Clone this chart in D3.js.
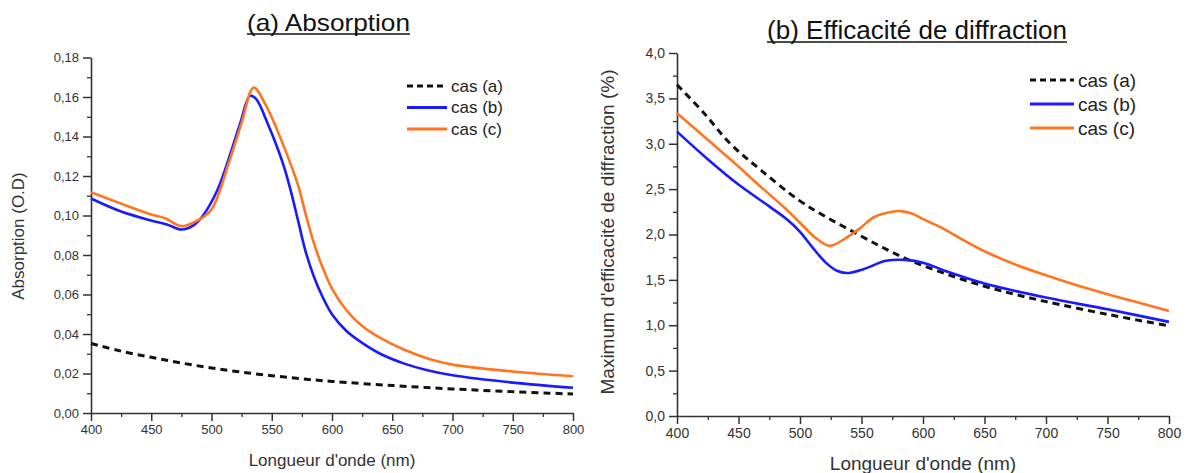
<!DOCTYPE html>
<html><head><meta charset="utf-8">
<script src="https://cdn.jsdelivr.net/npm/d3@7"></script>
<style>body{margin:0;background:#fff}svg{display:block;font-family:"Liberation Sans",Arial,sans-serif}</style>
</head><body><svg id="c" width="1187" height="473"></svg>
<script>
// ---- Data: panel (a) Absorption ----
const absA_nm = [400,425,450,475,500,525,550,575,600,650,700,750,800];
const absA_val = [0.0352,0.0313,0.0282,0.0253,0.0228,0.0207,0.0189,0.0173,0.016,0.0139,0.0122,0.0108,0.0096];
const absB_nm = [400,425,449,463,475,485,493,505,515,524,532,537,547,553,560,566,572,578,585,592,600,612,625,640,660,680,700,750,800];
const absB_val = [0.1086,0.102,0.0976,0.0955,0.0929,0.095,0.100,0.113,0.130,0.147,0.1606,0.159,0.146,0.137,0.125,0.112,0.097,0.082,0.069,0.059,0.050,0.0415,0.0355,0.030,0.025,0.0215,0.0191,0.0154,0.0128];
const absC_nm = [400,425,450,462,475,490,500,515,525,535,545,560,572,578,585,592,600,612,625,640,660,680,700,750,800];
const absC_val = [0.1118,0.106,0.1005,0.0985,0.0946,0.098,0.103,0.128,0.147,0.1648,0.156,0.135,0.115,0.101,0.086,0.074,0.063,0.052,0.044,0.038,0.032,0.0275,0.0245,0.021,0.0186];
// ---- Data: panel (b) Efficacité de diffraction ----
const effA_nm = [400,422,443,468,499,521,546,570,592,620,650,675,700,750,800];
const effA_val = [3.65,3.337,3.006,2.711,2.379,2.195,2.01,1.838,1.70,1.56,1.43,1.34,1.26,1.12,0.993];
const effB_nm = [400,425,450,475,490,500,510,521,530,538,552,570,586,600,620,650,700,750,800];
const effB_val = [3.134,2.83,2.55,2.31,2.16,2.03,1.86,1.69,1.60,1.575,1.62,1.71,1.72,1.69,1.59,1.46,1.305,1.176,1.037];
const effC_nm = [400,422,447,468,487,500,512,524,536,549,560,575,582,592,600,615,630,650,675,700,725,750,775,800];
const effC_val = [3.337,3.079,2.785,2.527,2.30,2.13,1.97,1.875,1.95,2.07,2.19,2.25,2.258,2.225,2.17,2.075,1.96,1.815,1.67,1.55,1.44,1.342,1.25,1.158];
// ---- Labels ----
const seriesNames = ["cas (a)","cas (b)","cas (c)"];
const xTicks = [400,450,500,550,600,650,700,750,800];
const absTicks = [0,0.02,0.04,0.06,0.08,0.10,0.12,0.14,0.16,0.18];
const effTicks = [0,0.5,1.0,1.5,2.0,2.5,3.0,3.5,4.0];

const colors = ["#111","#1a1aff","#ff7520"];
const svg = d3.select("#c");
const zip = (a,b)=>a.map((x,i)=>[x,b[i]]);

function panel(cfg){
  const x = d3.scaleLinear().domain([400,800]).range([cfg.x0,cfg.x1]);
  const y = d3.scaleLinear().domain(cfg.ydom).range([cfg.y0,cfg.y1]);
  const g = svg.append("g");
  const comma = f => d => f(d).replace(".",",");
  // minor ticks
  g.append("g").attr("transform",`translate(0,${cfg.y0})`)
   .call(d3.axisBottom(x).tickValues(d3.range(425,800,50)).tickSize(4).tickFormat(""))
   .call(s=>{s.select(".domain").remove();s.selectAll("line").attr("stroke","#333").attr("stroke-width",1.3);});
  g.append("g").attr("transform",`translate(${cfg.x0},0)`)
   .call(d3.axisLeft(y).tickValues(cfg.minor).tickSize(4).tickFormat(""))
   .call(s=>{s.select(".domain").remove();s.selectAll("line").attr("stroke","#333").attr("stroke-width",1.3);});
  // major axes
  const xa = g.append("g").attr("transform",`translate(0,${cfg.y0})`)
   .call(d3.axisBottom(x).tickValues(xTicks).tickSize(8).tickSizeOuter(0).tickPadding(4).tickFormat(d3.format("d")));
  const ya = g.append("g").attr("transform",`translate(${cfg.x0},0)`)
   .call(d3.axisLeft(y).tickValues(cfg.ticks).tickSize(8).tickSizeOuter(0).tickPadding(4).tickFormat(comma(d3.format(cfg.fmt))));
  [xa,ya].forEach(a=>{
    a.select(".domain").attr("stroke","#333").attr("stroke-width",1.6);
    a.selectAll("line").attr("stroke","#333").attr("stroke-width",1.5);
    a.selectAll("text").attr("fill","#333").style("font-size",cfg.tickFont+"px").style("font-family","Liberation Sans, Arial, sans-serif");
  });
  // lines
  const line = d3.line().x(d=>x(d[0])).y(d=>y(d[1])).curve(d3.curveCatmullRom.alpha(0.5));
  cfg.series.forEach((s,i)=>{
    g.append("path").datum(zip(s[0],s[1])).attr("d",line).attr("fill","none")
     .attr("stroke",colors[i]).attr("stroke-width",i===0?3:2.6)
     .attr("stroke-dasharray",i===0?"7,5":null);
  });
  // legend
  seriesNames.forEach((n,i)=>{
    const ly = cfg.legY + i*cfg.legDy;
    g.append("line").attr("x1",cfg.legX).attr("x2",cfg.legX+cfg.legW).attr("y1",ly).attr("y2",ly)
     .attr("stroke",colors[i]).attr("stroke-width",i===0?3:2.8).attr("stroke-dasharray",i===0?"6,4":null);
    g.append("text").attr("x",cfg.legX+cfg.legW+4).attr("y",ly).attr("dy","0.35em")
     .style("font-size",cfg.legFont+"px").attr("fill","#222").text(n);
  });
  // axis titles
  g.append("text").attr("x",(cfg.x0+cfg.x1)/2).attr("y",cfg.xtY).attr("text-anchor","middle")
   .style("font-size",cfg.xtFont+"px").attr("fill","#333").text("Longueur d'onde (nm)");
  g.append("text").attr("transform",`translate(${cfg.ytX},${cfg.ytCY}) rotate(-90)`).attr("text-anchor","middle")
   .style("font-size",cfg.ytFont+"px").attr("fill","#333").text(cfg.ytitle);
  // title with underline
  g.append("text").attr("x",cfg.tX).attr("y",cfg.tY).attr("text-anchor","middle")
   .style("font-size",cfg.tFont+"px").attr("fill","#111")
   .attr("textLength",cfg.tW).attr("lengthAdjust","spacingAndGlyphs").text(cfg.title);
  g.append("line").attr("x1",cfg.tX-cfg.tW/2).attr("x2",cfg.tX+cfg.tW/2).attr("y1",cfg.tY+3).attr("y2",cfg.tY+3)
   .attr("stroke","#111").attr("stroke-width",1.3);
}

panel({x0:91,x1:573,y0:413,y1:57.5,ydom:[0,0.18],ticks:absTicks,minor:d3.range(0.01,0.18,0.02),fmt:".2f",tickFont:13,
  series:[[absA_nm,absA_val],[absB_nm,absB_val],[absC_nm,absC_val]],
  legX:407,legW:40,legY:86,legDy:21.5,legFont:17,
  xtY:466,xtFont:17,ytX:24,ytCY:236,ytFont:17,ytitle:"Absorption (O.D)",
  tX:328.5,tY:31,tFont:24,tW:163,title:"(a) Absorption"});
panel({x0:677,x1:1169,y0:416,y1:53,ydom:[0,4],ticks:effTicks,minor:d3.range(0.25,4,0.5),fmt:".1f",tickFont:14,
  series:[[effA_nm,effA_val],[effB_nm,effB_val],[effC_nm,effC_val]],
  legX:1030,legW:44,legY:80,legDy:24,legFont:19,
  xtY:470,xtFont:19,ytX:614,ytCY:232,ytFont:19,ytitle:"Maximum d'efficacité de diffraction (%)",
  tX:917,tY:39,tFont:25,tW:300,title:"(b) Efficacité de diffraction"});
</script></body></html>
